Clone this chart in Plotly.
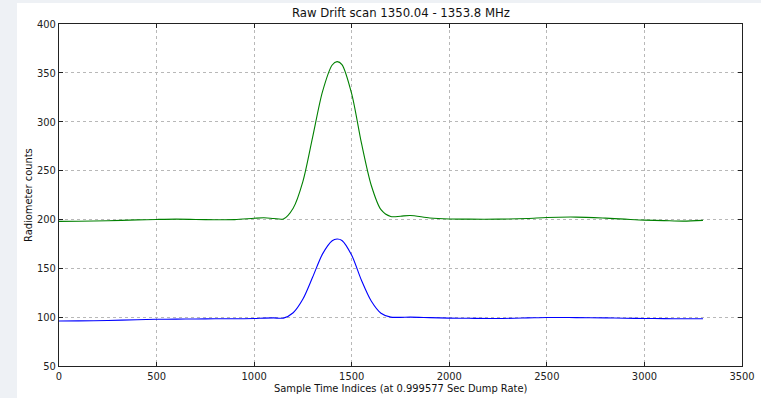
import plotly.graph_objects as go

sample_idx = [0, 100, 250, 400, 500, 600, 700, 800, 900, 1000, 1050, 1100, 1150,
              1200, 1250, 1300, 1350, 1400, 1425, 1450, 1500, 1550, 1600, 1650,
              1700, 1750, 1800, 1900, 2000, 2100, 2250, 2400, 2500, 2650, 2800,
              2900, 3000, 3100, 3200, 3300]

green_counts = [198.0, 198.2, 198.6, 199.5, 200.0, 200.3, 200.0, 199.7, 199.8, 201.2,
                201.7, 201.0, 200.5, 211.5, 239.0, 284.5, 330.5, 358.0, 361.5, 358.5,
                328.5, 278.0, 235.0, 210.0, 203.0, 203.3, 204.0, 201.5, 200.5, 200.3,
                200.3, 201.0, 202.0, 202.4, 201.3, 200.3, 199.3, 198.8, 198.3, 199.0]

blue_counts = [96.0, 96.2, 96.6, 97.3, 97.8, 98.0, 98.1, 98.3, 98.4, 98.6,
               99.0, 99.2, 99.0, 104.5, 118.5, 141.0, 164.5, 178.2, 180.0, 178.5,
               163.3, 137.7, 116.5, 104.0, 100.0, 99.8, 100.0, 99.5, 99.0, 98.8,
               98.6, 99.2, 99.7, 99.5, 99.2, 98.9, 98.6, 98.5, 98.3, 98.3]

x_ticks = [0, 500, 1000, 1500, 2000, 2500, 3000, 3500]
y_ticks = [50, 100, 150, 200, 250, 300, 350, 400]

title_text = "Raw Drift scan 1350.04 - 1353.8 MHz"
x_label = "Sample Time Indices (at 0.999577 Sec Dump Rate)"
y_label = "Radiometer counts"

FONT = "Liberation Sans Narrow, DejaVu Sans Condensed, Arial Narrow, Liberation Sans, sans-serif"
BG = "#eef1f5"

fig = go.Figure()
fig.add_trace(go.Scatter(x=sample_idx, y=green_counts, mode="lines",
                         line=dict(color="#008000", width=1.1, shape="spline", smoothing=0.8),
                         showlegend=False))
fig.add_trace(go.Scatter(x=sample_idx, y=blue_counts, mode="lines",
                         line=dict(color="#0000ff", width=1.1, shape="spline", smoothing=0.8),
                         showlegend=False))

L, R, T, B = 59, 19, 24, 32
W, H = 761, 398
pw, ph = W - L - R, H - T - B


def px_x(p):
    return (p - L) / pw


def px_y(p):
    return (T + ph - p) / ph


axis_common = dict(showgrid=True, gridcolor="#b8b8b8", griddash="dot", gridwidth=1,
                   showline=True, linecolor="#222222", linewidth=1, mirror="ticks",
                   ticks="inside", ticklen=4, tickcolor="#222222", zeroline=False,
                   automargin=False,
                   tickfont=dict(family=FONT, size=11, color="#222222"))

fig.update_xaxes(range=[0, 3500], tickvals=x_ticks, **axis_common)
fig.update_yaxes(range=[50, 400], tickvals=y_ticks, **axis_common)

fig.update_layout(
    width=W, height=H, autosize=False,
    margin=dict(l=L, r=R, t=T, b=B, pad=0, autoexpand=False),
    paper_bgcolor="#ffffff",
    plot_bgcolor="#ffffff",
    shapes=[
        dict(type="rect", xref="paper", yref="paper", layer="below",
             x0=px_x(0), x1=px_x(17), y0=px_y(H), y1=px_y(0),
             fillcolor=BG, line=dict(width=0)),
        dict(type="rect", xref="paper", yref="paper", layer="below",
             x0=px_x(0), x1=px_x(W), y0=px_y(3), y1=px_y(0),
             fillcolor=BG, line=dict(width=0)),
    ],
    annotations=[
        dict(text=title_text, xref="paper", yref="paper", x=0.5, y=px_y(13),
             xanchor="center", yanchor="middle", showarrow=False,
             font=dict(family=FONT, size=13, color="#111111")),
        dict(text=x_label, xref="paper", yref="paper", x=px_x(401), y=px_y(388),
             xanchor="center", yanchor="middle", showarrow=False,
             font=dict(family=FONT, size=11, color="#111111")),
        dict(text=y_label, xref="paper", yref="paper", x=px_x(28), y=px_y(195),
             xanchor="center", yanchor="middle", showarrow=False, textangle=-90,
             font=dict(family=FONT, size=11, color="#111111")),
    ],
)

fig.write_html("out.html")
